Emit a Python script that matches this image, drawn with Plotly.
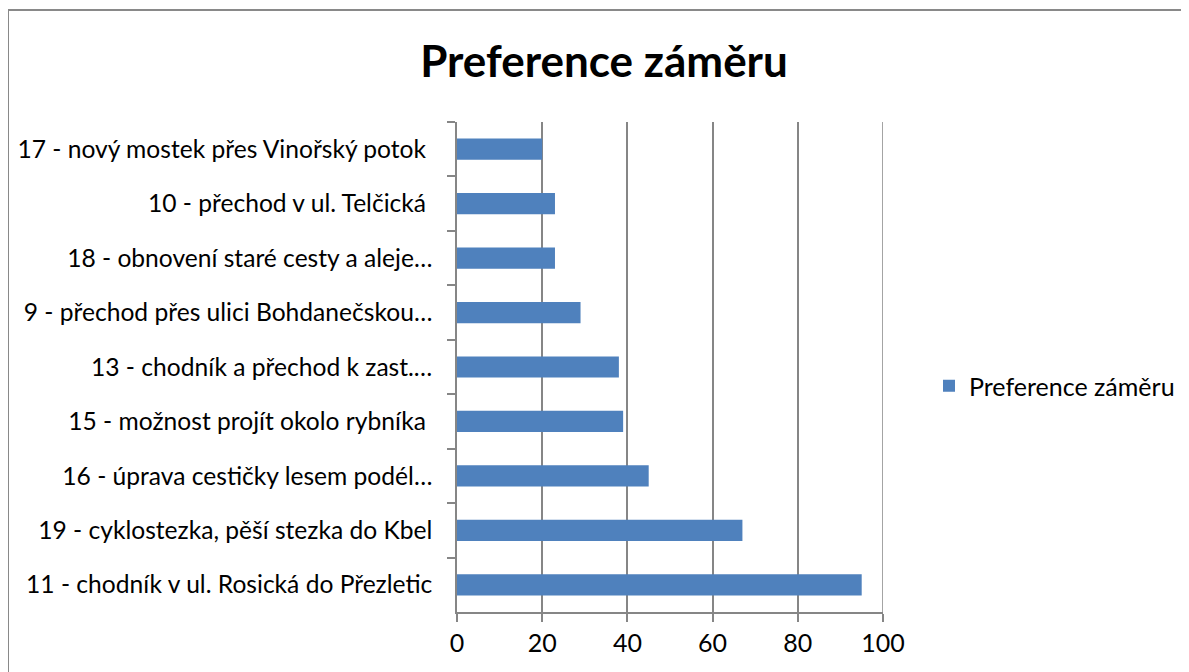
import plotly.graph_objects as go

categories = [
    "17 - nový mostek přes Vinořský potok ",
    "10 - přechod v ul. Telčická ",
    "18 - obnovení staré cesty a aleje…",
    "9 - přechod přes ulici Bohdanečskou…",
    "13 - chodník a přechod k zast.…",
    "15 - možnost projít okolo rybníka ",
    "16 - úprava cestičky lesem podél…",
    "19 - cyklostezka, pěší stezka do Kbel",
    "11 - chodník v ul. Rosická do Přezletic",
]
values = [20, 23, 23, 29, 38, 39, 45, 67, 95]
series_name = "Preference záměru"
x_ticks = [0, 20, 40, 60, 80, 100]

FONT = "Lato"
GRID = "#868686"

fig = go.Figure()
fig.add_trace(go.Bar(
    x=values, y=categories, orientation="h", name=series_name,
    marker=dict(color="#4F81BD", line=dict(width=0)),
    showlegend=True,
))

OFF = 8  # page offset of the figure (body margin)
W, H = 1189, 672
L = 457 - OFF
T = 122 - OFF
R = W + OFF - 883
B = H + OFF - 612
pw, ph = W - L - R, H - T - B

fig.update_layout(
    width=W, height=H, autosize=False,
    margin=dict(l=L, r=R, t=T, b=B, autoexpand=False),
    paper_bgcolor="white", plot_bgcolor="white",
    font=dict(family=FONT, size=25, color="black"),
    bargap=0.61,
    title=dict(text="<b>Preference záměru</b>", x=(604 - OFF) / W, xanchor="center",
               y=1 - (62 - OFF) / H, yanchor="middle",
               font=dict(family=FONT, size=44, color="black")),
    legend=dict(x=(929 - OFF - L) / pw, xanchor="left", y=(612 - 386) / ph, yanchor="middle",
                font=dict(family=FONT, size=25), bgcolor="rgba(0,0,0,0)",
                itemwidth=30),
    xaxis=dict(range=[0, 100], tickvals=x_ticks, showgrid=True, gridcolor=GRID, gridwidth=1.5,
               showline=True, linecolor=GRID, linewidth=1.5, ticks="outside", ticklen=8,
               tickcolor=GRID, tickwidth=1.5, zeroline=False, mirror=False, automargin=False,
               tickfont=dict(family=FONT, size=25)),
    yaxis=dict(autorange="reversed", showgrid=False, showline=True, linecolor=GRID, linewidth=1.5,
               ticks="outside", ticklen=8, tickcolor=GRID, tickwidth=1.5, tickson="boundaries",
               automargin=False,
               ticklabelstandoff=18, tickfont=dict(family=FONT, size=24.6)),
    shapes=[
        dict(type="rect", xref="paper", yref="paper",
             x0=(8 - OFF - L) / pw, x1=(1210 - OFF - L) / pw,
             y0=(612 - 700) / ph, y1=(612 - 10) / ph,
             line=dict(color="#898989", width=2), fillcolor="rgba(0,0,0,0)", layer="below"),
        # gridline at the last tick (plotly omits it at the range edge)
        dict(type="line", xref="x", yref="paper", x0=x_ticks[-1], x1=x_ticks[-1], y0=0, y1=1,
             line=dict(color=GRID, width=1.5), layer="below"),
    ],
)
fig.write_html("out.html")
